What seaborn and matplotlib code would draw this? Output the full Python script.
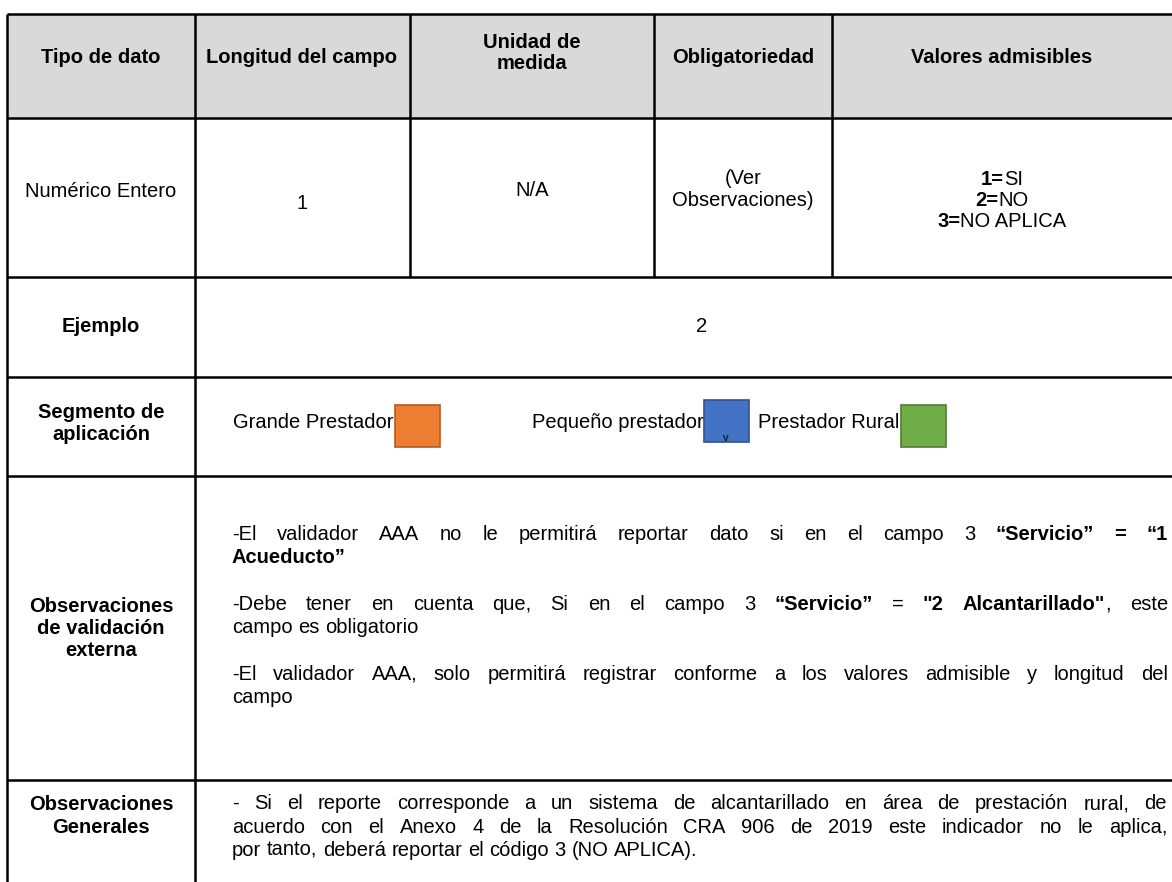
import numpy as np
import seaborn as sns
import matplotlib
matplotlib.use('Agg')
import matplotlib.pyplot as plt
from matplotlib.patches import Rectangle

sns.set_theme(style='white')
plt.rcParams['font.family'] = ['Liberation Sans', 'DejaVu Sans']

# table content
headers = [['Tipo de dato'], ['Longitud del campo'], ['Unidad de', 'medida'],
           ['Obligatoriedad'], ['Valores admisibles']]
row_vals = [['Numérico Entero'], ['1'], ['N/A'], ['(Ver', 'Observaciones)']]
valores = [('1=', 'SI'), ('2=', 'NO'), ('3=', 'NO APLICA')]
row_labels = [['Ejemplo'], ['Segmento de', 'aplicación'],
              ['Observaciones', 'de validación', 'externa'],
              ['Observaciones', 'Generales']]
ejemplo = '2'
segmentos = ['Grande Prestador', 'Pequeño prestador', 'Prestador Rural']
seg_colors = ['#ED7D31', '#4472C4', '#70AD47']
seg_edges = ['#B25C22', '#2F528F', '#507E32']

# observaciones: each line is a list of words, each word a list of (text, bold)
def plain(s):
    return [[(w, False)] for w in s.split()]

obs_ext = [
    (plain('-El validador AAA no le permitirá reportar dato si en el campo 3')
     + [[('“Servicio”', True)], [('=', True)], [('“1', True)]], True),
    ([[('Acueducto”', True)]], False),
    (plain('-Debe tener en cuenta que, Si en el campo 3')
     + [[('“Servicio”', True)], [('=', False)], [('"2', True)],
        [('Alcantarillado"', True), (',', False)], [('este', False)]], True),
    (plain('campo es obligatorio'), False),
    (plain('-El validador AAA, solo permitirá registrar conforme a los valores admisible y longitud del'), True),
    (plain('campo'), False),
]
obs_gen = [
    (plain('- Si el reporte corresponde a un sistema de alcantarillado en área de prestación rural, de'), True),
    (plain('acuerdo con el Anexo 4 de la Resolución CRA 906 de 2019 este indicador no le aplica,'), True),
    (plain('por tanto, deberá reportar el código 3 (NO APLICA).'), False),
]

FS = 14.5
W, H = 1172, 882
fig = plt.figure(figsize=(W / 100, H / 100), dpi=100)
ax = fig.add_axes([0, 0, 1, 1])
ax.set_xlim(0, W)
ax.set_ylim(H, 0)
ax.axis('off')
renderer = fig.canvas.get_renderer()

col_x = [7, 195, 410, 654, 832]
row_y = [14, 118, 277, 377, 476, 780]
LW = 1.8

# header background
ax.add_patch(Rectangle((7, 14), W, 104, facecolor='#D9D9D9', edgecolor='none'))
ax.hlines(row_y, 7, W + 10, color='black', lw=LW)
ax.vlines([7, 195], 14, H + 5, color='black', lw=LW)
ax.vlines(col_x[2:], 14, 277, color='black', lw=LW)


def tw(s, bold):
    t = ax.text(0, 0, s, fontsize=FS, fontweight='bold' if bold else 'normal')
    w = t.get_window_extent(renderer).width
    t.remove()
    return w


SP = tw('a a', False) - tw('aa', False)


def put(x, y, s, bold=False, ha='center'):
    ax.text(x, y, s, fontsize=FS, fontweight='bold' if bold else 'normal',
            ha=ha, va='baseline', color='black')


def put_words(words, x0, y, x1=None):
    widths = [[tw(s, b) for s, b in wd] for wd in words]
    tot = sum(sum(w) for w in widths)
    gap = SP if x1 is None or len(words) < 2 else (x1 - x0 - tot) / (len(words) - 1)
    x = x0
    for wd, ws in zip(words, widths):
        for (s, b), w in zip(wd, ws):
            put(x, y, s, b, ha='left')
            x += w
        x += gap


def put_mixed_center(parts, cx, y):
    ws = [tw(s, b) for s, b in parts]
    x = cx - sum(ws) / 2
    for (s, b), w in zip(parts, ws):
        put(x, y, s, b, ha='left')
        x += w


# header row
head_cx = [101, 302, 532, 743, 1002]
head_y = {1: [63], 2: [48, 69]}
for cx, lines in zip(head_cx, headers):
    for yy, s in zip(head_y[len(lines)], lines):
        put(cx, yy, s, bold=True)

# second row
put(101, 197, row_vals[0][0])
put(302, 209, row_vals[1][0])
put(532, 196, row_vals[2][0])
put(743, 184, row_vals[3][0])
put(743, 206, row_vals[3][1])
for (a, b), yy in zip(valores, [185, 206, 227]):
    put_mixed_center([(a, True), (b, False)], 1002, yy)

# row labels
label_y = [[332], [418, 440], [612, 634, 656], [810, 833]]
for lines, ys in zip(row_labels, label_y):
    for s, yy in zip(lines, ys):
        put(101, yy, s, bold=True)

put(702, 332, ejemplo)

# segmento legend
x = 233
seg_gap = [0, 92, 9]
for i, (name, c, ec) in enumerate(zip(segmentos, seg_colors, seg_edges)):
    x += seg_gap[i]
    put(x, 428, name, ha='left')
    x += tw(name, False) + 1
    y0 = 400 if i == 1 else 405
    ax.add_patch(Rectangle((x, y0), 45, 42, facecolor=c, edgecolor=ec, lw=1.2))
    if i == 1:
        ax.text(x + 22, 443, 'v', fontsize=8, ha='center', va='bottom', color='black')
    x += 45

# observaciones text
ext_y = [540, 563, 610, 633, 680, 703]
for (words, just), yy in zip(obs_ext, ext_y):
    put_words(words, 232, yy, 1168 if just else None)
gen_y = [809, 833, 856]
for (words, just), yy in zip(obs_gen, gen_y):
    put_words(words, 232, yy, 1167 if just else None)

fig.savefig('out.png', dpi=100, facecolor='white')
